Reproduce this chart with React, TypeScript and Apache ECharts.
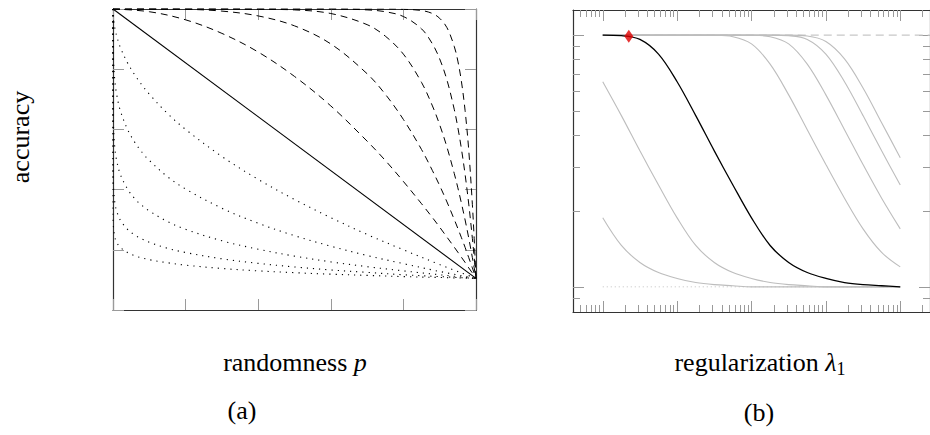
import React, { useEffect, useRef } from "react";
import * as echarts from "echarts";

// ---------- Panel (a): accuracy vs randomness p ----------
const pHigh = [0, 0.1, 0.2, 0.3, 0.4, 0.5, 0.6, 0.7, 0.75, 0.8, 0.85, 0.88, 0.9, 0.92, 0.94, 0.95, 0.96, 0.97, 0.98, 0.99, 0.995, 1];
const dashK2 = [1, 0.991, 0.964, 0.919, 0.857, 0.776, 0.678, 0.561, 0.497, 0.427, 0.353, 0.307, 0.275, 0.242, 0.209, 0.192, 0.175, 0.158, 0.14, 0.123, 0.114, 0.105];
const dashK4 = [1, 1, 0.999, 0.993, 0.977, 0.944, 0.884, 0.785, 0.717, 0.633, 0.533, 0.463, 0.413, 0.359, 0.301, 0.271, 0.24, 0.208, 0.174, 0.14, 0.123, 0.105];
const dashK8 = [1, 1, 1, 1, 0.999, 0.997, 0.985, 0.948, 0.91, 0.85, 0.756, 0.678, 0.615, 0.541, 0.454, 0.406, 0.354, 0.299, 0.239, 0.174, 0.14, 0.105];
const dashK16 = [1, 1, 1, 1, 1, 1, 1, 0.997, 0.991, 0.975, 0.934, 0.884, 0.834, 0.764, 0.667, 0.606, 0.534, 0.45, 0.352, 0.238, 0.174, 0.105];
const dashK32 = [1, 1, 1, 1, 1, 1, 1, 1, 1, 0.999, 0.995, 0.985, 0.969, 0.938, 0.876, 0.827, 0.758, 0.662, 0.531, 0.351, 0.237, 0.105];

const pLow = [0, 0.0001, 0.001, 0.005, 0.01, 0.02, 0.04, 0.06, 0.08, 0.1, 0.15, 0.2, 0.3, 0.4, 0.5, 0.6, 0.7, 0.8, 0.9, 1];
const dotK2 = [1, 0.991, 0.972, 0.937, 0.911, 0.873, 0.821, 0.781, 0.747, 0.717, 0.653, 0.6, 0.51, 0.434, 0.367, 0.307, 0.251, 0.2, 0.151, 0.105];
const dotK4 = [1, 0.911, 0.841, 0.762, 0.717, 0.663, 0.6, 0.557, 0.524, 0.497, 0.443, 0.402, 0.338, 0.288, 0.247, 0.212, 0.181, 0.154, 0.128, 0.105];
const dotK8 = [1, 0.717, 0.623, 0.538, 0.497, 0.451, 0.402, 0.37, 0.347, 0.329, 0.294, 0.268, 0.23, 0.202, 0.179, 0.16, 0.144, 0.13, 0.117, 0.105];
const dotK16 = [1, 0.497, 0.419, 0.357, 0.329, 0.299, 0.268, 0.249, 0.236, 0.225, 0.205, 0.191, 0.17, 0.155, 0.143, 0.133, 0.125, 0.117, 0.111, 0.105];
const dotK32 = [1, 0.329, 0.279, 0.242, 0.225, 0.208, 0.191, 0.18, 0.173, 0.167, 0.157, 0.149, 0.138, 0.13, 0.124, 0.119, 0.115, 0.111, 0.108, 0.105];

const diagP = [0, 1];
const diagY = [1, 0.105];

// ---------- Panel (b): accuracy vs regularization lambda_1 (log-log) ----------
const lambdas = [0.001, 0.00178, 0.00316, 0.00562, 0.01, 0.0178, 0.0316, 0.0562, 0.1, 0.178, 0.316, 0.562, 1, 1.78, 3.16, 5.62, 10];
const blackAcc = [1.0, 0.995, 0.962, 0.841, 0.653, 0.479, 0.347, 0.254, 0.188, 0.146, 0.125, 0.114, 0.108, 0.104, 0.102, 0.101, 0.1];
const gray1 = [0.188, 0.146, 0.125, 0.114, 0.108, 0.104, 0.102, 0.101, 0.1, 0.1, 0.1, 0.1, 0.1, 0.1, 0.1, 0.1, 0.1];
const gray2 = [0.653, 0.479, 0.347, 0.254, 0.188, 0.146, 0.125, 0.114, 0.108, 0.104, 0.102, 0.101, 0.1, 0.1, 0.1, 0.1, 0.1];
const gray3 = [1, 1, 1, 1, 1, 1, 0.999, 0.986, 0.923, 0.767, 0.579, 0.421, 0.306, 0.225, 0.17, 0.137, 0.12];
const gray4 = [1, 1, 1, 1, 1, 1, 1, 1, 0.999, 0.986, 0.923, 0.767, 0.579, 0.421, 0.306, 0.225, 0.17];
const gray5 = [1, 1, 1, 1, 1, 1, 1, 1, 1, 1, 0.995, 0.962, 0.841, 0.653, 0.479, 0.347, 0.254];
const gray6 = [1, 1, 1, 1, 1, 1, 1, 1, 1, 1, 1, 0.993, 0.944, 0.805, 0.617, 0.449, 0.326];
const bestPoint = [0.00224, 0.99];
const topRefX = [0.001, 100];
const topRefY = [1, 1];
const bottomRefX = [0.001, 10];
const bottomRefY = [0.1, 0.1];

const lamMajorTicks = [0.001, 0.01, 0.1, 1, 10];
const lamMinorTicks = [
  0.0005, 0.0006, 0.0007, 0.0008, 0.0009,
  0.002, 0.003, 0.004, 0.005, 0.006, 0.007, 0.008, 0.009,
  0.02, 0.03, 0.04, 0.05, 0.06, 0.07, 0.08, 0.09,
  0.2, 0.3, 0.4, 0.5, 0.6, 0.7, 0.8, 0.9,
  2, 3, 4, 5, 6, 7, 8, 9, 20,
];
const accMajorTicks = [0.1, 1];
const accMinorTicks = [0.09, 0.2, 0.3, 0.4, 0.5, 0.6, 0.7, 0.8, 0.9];

const SERIF = "Liberation Serif";
const FS = 26;
const FRAME = "#333";
const TICK = "#9a9a9a";
const GRAY = "#bdbdbd";

const zip = (xs: number[], ys: number[]) => xs.map((x, i) => [x, ys[i]]);

export default function App() {
  const ref = useRef<HTMLDivElement>(null);

  useEffect(() => {
    document.body.style.margin = "0";
    if (!ref.current) return;
    const chart = echarts.init(ref.current, null, { renderer: "svg" });

    const linAxis = (pos: string, grid: number) => ({
      type: "value",
      gridIndex: grid,
      position: pos,
      min: 0,
      max: 1,
      interval: 0.2,
      axisLine: { show: true, onZero: false, lineStyle: { color: FRAME, width: 1.2 } },
      axisTick: { show: true, inside: true, length: 11, lineStyle: { color: TICK, width: 1 } },
      axisLabel: { show: false },
      splitLine: { show: false },
    });

    const logAxis = (pos: string, min: number, max: number, ticks: number[], len: number, line: boolean) => ({
      type: "log",
      logBase: 10,
      gridIndex: 1,
      position: pos,
      min,
      max,
      axisLine: { show: line, onZero: false, lineStyle: { color: FRAME, width: 1.2 } },
      axisTick: { show: true, inside: true, length: len, customValues: ticks, lineStyle: { color: TICK, width: 1 } },
      axisLabel: { show: false },
      splitLine: { show: false },
      minorTick: { show: false },
    });

    const lamMin = Math.pow(10, -3.4);
    const lamMax = Math.pow(10, 1.4);
    const accMin = Math.pow(10, -1.1);
    const accMax = Math.pow(10, 0.1);

    const dashed = (ys: number[]) => ({
      type: "line",
      xAxisIndex: 0,
      yAxisIndex: 0,
      data: zip(pHigh, ys),
      showSymbol: false,
      smooth: 0.35,
      lineStyle: { color: "#000", width: 1, type: [7, 5] },
      silent: true,
    });
    const dotted = (ys: number[]) => ({
      type: "line",
      xAxisIndex: 0,
      yAxisIndex: 0,
      data: zip(pLow, ys),
      showSymbol: false,
      smooth: 0.35,
      lineStyle: { color: "#000", width: 1.1, type: [1.2, 5] },
      silent: true,
    });
    const grayCurve = (ys: number[]) => ({
      type: "line",
      xAxisIndex: 2,
      yAxisIndex: 2,
      data: zip(lambdas, ys),
      showSymbol: false,
      smooth: 0.35,
      lineStyle: { color: GRAY, width: 1.1 },
      silent: true,
    });

    const plain = (text: string, x: number, y: number, rot = 0) => ({
      type: "text",
      x,
      y,
      rotation: rot,
      style: { text, fontFamily: SERIF, fontSize: FS, fill: "#000", align: "center", verticalAlign: "middle" },
    });

    const option: any = {
      animation: false,
      grid: [
        { left: 113, top: 9, width: 363, height: 301 },
        { left: 573, top: 10, width: 362, height: 302 },
      ],
      xAxis: [
        linAxis("bottom", 0),
        linAxis("top", 0),
        logAxis("bottom", lamMin, lamMax, lamMajorTicks, 11, true),
        logAxis("bottom", lamMin, lamMax, lamMinorTicks, 7, false),
        logAxis("top", lamMin, lamMax, lamMajorTicks, 11, true),
        logAxis("top", lamMin, lamMax, lamMinorTicks, 7, false),
      ],
      yAxis: [
        linAxis("left", 0),
        linAxis("right", 0),
        logAxis("left", accMin, accMax, accMajorTicks, 11, true),
        logAxis("left", accMin, accMax, accMinorTicks, 7, false),
        logAxis("right", accMin, accMax, accMajorTicks, 11, true),
        logAxis("right", accMin, accMax, accMinorTicks, 7, false),
      ],
      series: [
        {
          type: "line",
          xAxisIndex: 0,
          yAxisIndex: 0,
          data: zip(diagP, diagY),
          showSymbol: false,
          lineStyle: { color: "#000", width: 1.1 },
          silent: true,
        },
        dashed(dashK2),
        dashed(dashK4),
        dashed(dashK8),
        dashed(dashK16),
        dashed(dashK32),
        dotted(dotK2),
        dotted(dotK4),
        dotted(dotK8),
        dotted(dotK16),
        dotted(dotK32),
        {
          type: "line",
          xAxisIndex: 2,
          yAxisIndex: 2,
          data: zip(topRefX, topRefY),
          showSymbol: false,
          lineStyle: { color: "#c8c8c8", width: 1.1, type: [8, 5] },
          silent: true,
        },
        {
          type: "line",
          xAxisIndex: 2,
          yAxisIndex: 2,
          data: zip(bottomRefX, bottomRefY),
          showSymbol: false,
          lineStyle: { color: "#c0c0c0", width: 1, type: [1, 3] },
          silent: true,
        },
        grayCurve(gray1),
        grayCurve(gray2),
        grayCurve(gray3),
        grayCurve(gray4),
        grayCurve(gray5),
        grayCurve(gray6),
        {
          type: "line",
          xAxisIndex: 2,
          yAxisIndex: 2,
          data: zip(lambdas, blackAcc),
          showSymbol: false,
          smooth: 0.35,
          lineStyle: { color: "#000", width: 1.3 },
          silent: true,
          z: 3,
        },
        {
          type: "scatter",
          xAxisIndex: 2,
          yAxisIndex: 2,
          data: [bestPoint],
          symbol: "diamond",
          symbolSize: [9, 13],
          itemStyle: { color: "#e00000" },
          silent: true,
          z: 4,
        },
      ],
      graphic: [
        plain("accuracy", 20, 137, Math.PI / 2),
        {
          type: "text",
          x: 295,
          y: 362,
          style: {
            text: "{n|randomness }{i|p}",
            rich: {
              n: { fontFamily: SERIF, fontSize: FS, fill: "#000" },
              i: { fontFamily: SERIF, fontSize: FS, fontStyle: "italic", fill: "#000" },
            },
            fontFamily: SERIF,
            fontSize: FS,
            align: "center",
            verticalAlign: "middle",
          },
        },
        plain("(a)", 242, 410),
        {
          type: "text",
          x: 760,
          y: 362,
          style: {
            text: "{n|regularization }{i|λ}{s|1}",
            rich: {
              n: { fontFamily: SERIF, fontSize: FS, lineHeight: 32, fill: "#000" },
              i: { fontFamily: SERIF, fontSize: FS, lineHeight: 32, fontStyle: "italic", fill: "#000" },
              s: { fontFamily: SERIF, fontSize: 18, lineHeight: 18, verticalAlign: "bottom", fill: "#000" },
            },
            fontFamily: SERIF,
            fontSize: FS,
            align: "center",
            verticalAlign: "middle",
          },
        },
        plain("(b)", 759, 412),
      ],
    };

    chart.setOption(option);
    return () => chart.dispose();
  }, []);

  return <div ref={ref} style={{ width: 930, height: 435 }} />;
}
